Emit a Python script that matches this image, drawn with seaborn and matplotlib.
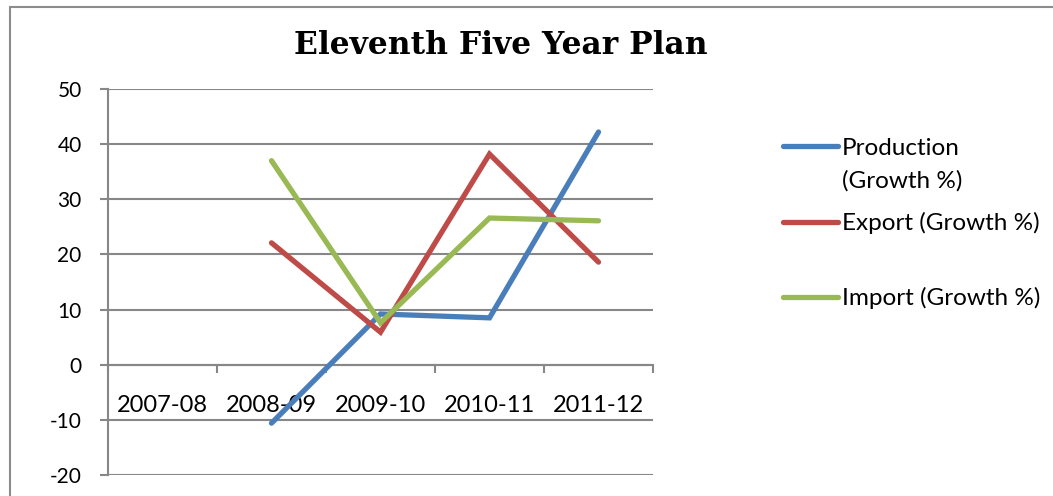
import numpy as np
import pandas as pd
import seaborn as sns
import matplotlib.pyplot as plt
from matplotlib.patches import Rectangle

# ---- data ----
years = ["2007-08", "2008-09", "2009-10", "2010-11", "2011-12"]
production = [np.nan, -10.6, 9.2, 8.5, 42.2]
export = [np.nan, 22.1, 5.9, 38.2, 18.6]
imports = [np.nan, 37.0, 7.6, 26.6, 26.1]
series_names = ["Production (Growth %)", "Export (Growth %)", "Import (Growth %)"]
y_ticks = [-20, -10, 0, 10, 20, 30, 40, 50]
title = "Eleventh Five Year Plan"

colors = ["#4A7EBB", "#BE4B48", "#98B954"]
grid_col = "#878787"

df = pd.DataFrame({
    "pos": list(range(len(years))) * 3,
    "value": production + export + imports,
    "series": [n for n in series_names for _ in years],
})

sns.set_theme(style="white")
plt.rcParams['font.family'] = ['Lato', 'DejaVu Sans']
plt.rcParams['text.color'] = 'black'
plt.rcParams['xtick.labelcolor'] = 'black'
plt.rcParams['ytick.labelcolor'] = 'black'

W, H = 1053, 496
fig = plt.figure(figsize=(W / 100, H / 100), dpi=100)
fig.patch.set_facecolor("white")

# outer border
fig.add_artist(Rectangle((10 / W, -0.1), 1.2, (H - 7) / H + 0.1, transform=fig.transFigure,
                         fill=False, edgecolor="#8c8c8c", linewidth=1.5))

ax = fig.add_axes([108 / W, 21 / H, 545 / W, 386 / H])
sns.lineplot(data=df, x="pos", y="value", hue="series", hue_order=series_names,
             palette=colors, linewidth=3.8, ax=ax, legend=False,
             solid_capstyle="round", solid_joinstyle="miter", zorder=3)

ax.set_xlim(-0.5, len(years) - 0.5)
ax.set_ylim(-20, 50)
ax.set_yticks(y_ticks)
ax.set_yticklabels([str(v) for v in y_ticks], fontsize=15, color="black")
ax.yaxis.grid(True, color=grid_col, linewidth=1.5)
ax.xaxis.grid(False)
ax.set_axisbelow(True)
ax.set_xlabel("")
ax.set_ylabel("")

for s in ["top", "right"]:
    ax.spines[s].set_visible(False)
ax.spines["left"].set_color(grid_col)
ax.spines["left"].set_linewidth(1.5)
ax.spines["bottom"].set_position(("data", 0))
ax.spines["bottom"].set_color(grid_col)
ax.spines["bottom"].set_linewidth(1.5)

ax.set_xticks(np.arange(-0.5, len(years), 1.0))
ax.set_xticks(np.arange(len(years)), minor=True)
ax.set_xticklabels(years, minor=True, fontsize=17, color="black")
ax.tick_params(axis="x", which="major", labelbottom=False, length=6, width=1.5,
               color=grid_col, direction="out", bottom=True)
ax.tick_params(axis="x", which="minor", length=0, pad=22, bottom=True)
ax.tick_params(axis="y", length=6, width=1.5, color=grid_col, direction="out",
               left=True, pad=13)

fig.text(501 / W, 1 - 45 / H, title, ha="center", va="center", color="black",
         fontsize=22.5, fontweight="bold", family="DejaVu Serif")

# legends
leg_font = 17.5
fs_px = leg_font * 100 / 72
labels = ["Production", "Export (Growth %)", "Import (Growth %)"]
ys = [148, 223, 298]
for line, lab, yy in zip(ax.lines[:3], labels, ys):
    fig.legend([line], [lab], loc="center left",
               bbox_to_anchor=(783 / W, 1 - yy / H), bbox_transform=fig.transFigure,
               frameon=False, fontsize=leg_font, borderpad=0, borderaxespad=0,
               handlelength=55 / fs_px, handletextpad=4 / fs_px, labelcolor="black")
fig.text(842 / W, 1 - 181 / H, "(Growth %)", ha="left", va="center",
         fontsize=leg_font, color="black")

fig.savefig("out.png", dpi=100, facecolor="white")
